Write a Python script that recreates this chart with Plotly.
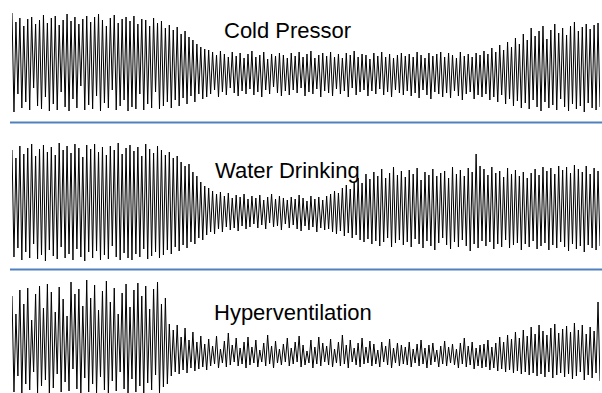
import numpy as np
import plotly.graph_objects as go

# Peak (hi) and trough (lo) amplitude of each oscillation cycle, arbitrary units
cold_hi = [51, 42, 46, 38, 45, 47, 40, 44, 49, 41,
           46, 48, 39, 44, 50, 43, 47, 40, 45, 48,
           42, 47, 50, 44, 38, 46, 49, 41, 45, 47,
           43, 48, 40, 45, 44, 38, 46, 41, 43, 36,
           39, 34, 37, 30, 33, 27, 24, 20, 17, 15,
           14, 12, 9, 13, 10, 7, 12, 8, 11, 6,
           10, 13, 7, 9, 12, 5, 10, 8, 11, 9,
           6, 11, 8, 12, 7, 10, 13, 6, 9, 11,
           8, 12, 7, 10, 6, 11, 9, 13, 7, 10,
           9, 5, 11, 8, 12, 7, 10, 6, 9, 11,
           8, 10, 7, 12, 9, 6, 11, 8, 10, 12,
           7, 11, 9, 6, 12, 8, 10, 7, 11, 9,
           13, 10, 16, 12, 19, 14, 22, 17, 26, 20,
           30, 24, 36, 28, 33, 38, 25, 34, 40, 31,
           36, 29, 38, 42, 33, 37, 40, 35, 39, 41]
cold_lo = [-48, -30, -44, -38, -46, -24, -42, -45, -33, -47,
           -40, -46, -28, -43, -47, -35, -44, -22, -46, -41,
           -45, -32, -47, -39, -44, -26, -46, -42, -36, -47,
           -43, -45, -30, -46, -40, -44, -28, -45, -42, -38,
           -44, -36, -42, -34, -40, -32, -38, -30, -35, -33,
           -30, -26, -33, -28, -31, -24, -29, -32, -27, -30,
           -25, -31, -28, -33, -26, -30, -23, -29, -32, -27,
           -31, -26, -29, -24, -32, -28, -30, -25, -33, -27,
           -29, -32, -25, -30, -27, -33, -24, -31, -28, -26,
           -32, -27, -30, -25, -31, -28, -33, -26, -29, -31,
           -27, -32, -29, -34, -26, -31, -35, -28, -30, -33,
           -29, -34, -27, -32, -36, -30, -28, -35, -31, -33,
           -30, -36, -33, -38, -31, -40, -35, -42, -37, -44,
           -39, -45, -36, -43, -47, -38, -44, -41, -46, -35,
           -43, -47, -40, -45, -42, -48, -39, -44, -46, -43]

water_hi = [52, 44, 56, 48, 54, 58, 46, 53, 57, 50,
            55, 47, 59, 52, 56, 49, 58, 54, 45, 57,
            53, 58, 50, 55, 47, 56, 52, 59, 48, 54,
            57, 51, 55, 46, 58, 53, 49, 56, 52, 47,
            50, 44, 46, 40, 36, 38, 30, 26, 20, 16,
            14, 11, 8, 10, 6, 9, 4, 7, 5, 8,
            3, 6, 4, 7, 2, 5, 8, 3, 6, 4,
            2, 5, 3, 7, 4, 1, 6, 3, 5, 2,
            6, 8, 11, 9, 14, 17, 13, 20, 24, 19,
            28, 23, 30, 26, 33, 24, 29, 35, 27, 31,
            25, 32, 28, 34, 22, 30, 27, 33, 26, 29,
            31, 24, 35, 28, 32, 26, 34, 30, 48, 36,
            33, 27, 35, 29, 31, 25, 34, 28, 32, 26,
            30, 24, 29, 33, 27, 35, 31, 34, 28, 36,
            32, 35, 29, 37, 33, 30, 36, 28, 34, 31]
water_lo = [-55, -46, -58, -50, -56, -42, -57, -53, -59, -48,
            -54, -57, -45, -56, -52, -58, -47, -55, -59, -50,
            -56, -49, -58, -53, -57, -44, -55, -58, -51, -56,
            -58, -52, -55, -47, -57, -54, -50, -56, -53, -48,
            -52, -45, -49, -43, -46, -40, -42, -36, -38, -33,
            -30, -32, -27, -30, -25, -28, -26, -29, -24, -27,
            -25, -22, -26, -23, -27, -21, -25, -24, -28, -22,
            -26, -23, -27, -29, -24, -28, -25, -30, -26, -28,
            -27, -30, -32, -29, -34, -31, -36, -33, -38, -40,
            -37, -42, -39, -44, -40, -36, -45, -41, -38, -43,
            -40, -45, -37, -42, -46, -39, -44, -48, -41, -36,
            -43, -47, -40, -45, -38, -44, -49, -42, -46, -39,
            -44, -40, -47, -42, -45, -38, -46, -43, -41, -48,
            -42, -45, -39, -47, -44, -41, -48, -43, -46, -40,
            -45, -49, -42, -47, -44, -50, -43, -46, -48, -44]

hyper_hi = [38, 20, 44, 30, 46, 14, 40, 48, 26, 50,
            42, 22, 47, 35, 18, 52, 40, 45, 28, 54,
            36, 49, 24, 43, 53, 32, 46, 20, 41, 50,
            27, 44, 51, 38, 48, 25, 45, 52, 30, 36,
            10, 4, 9, -3, 6, -6, 2, -8, -2, -10,
            -5, -12, -2, -15, -7, 1, -11, -4, -14, -8,
            -3, -13, -6, -16, -9, -1, -12, -7, -15, -10,
            -4, -14, -8, -2, -11, -17, -6, -13, -3, -9,
            -12, -5, -15, -8, -1, -11, -6, -14, -9, -4,
            -13, -7, -10, -16, -8, -12, -5, -14, -9, -11,
            -13, -8, -15, -10, -6, -14, -11, -9, -16, -12,
            -7, -13, -10, -15, -9, -4, -12, -8, -14, -11,
            -10, -6, -13, -9, -3, -8, -1, -5, 2, -4,
            4, -2, 7, 0, 9, 3, -1, 6, 10, 1,
            5, 8, 2, 11, 4, 9, 0, 7, 3, 32]
hyper_lo = [-58, -42, -60, -50, -56, -38, -59, -52, -46, -61,
            -54, -40, -58, -48, -57, -35, -55, -60, -44, -58,
            -50, -59, -43, -56, -61, -47, -57, -38, -55, -60,
            -45, -58, -52, -60, -49, -56, -41, -59, -53, -50,
            -42, -38, -40, -36, -39, -34, -37, -35, -33, -36,
            -32, -30, -34, -29, -33, -31, -28, -32, -30, -34,
            -31, -29, -33, -28, -32, -30, -34, -29, -31, -28,
            -32, -30, -28, -33, -31, -29, -34, -30, -32, -28,
            -31, -33, -29, -32, -30, -34, -28, -31, -33, -30,
            -29, -32, -30, -33, -28, -31, -34, -29, -32, -30,
            -31, -33, -29, -32, -30, -34, -31, -28, -33, -30,
            -32, -29, -31, -34, -30, -33, -31, -35, -32, -34,
            -33, -36, -34, -37, -35, -38, -36, -39, -37, -40,
            -38, -41, -39, -42, -40, -43, -38, -44, -41, -39,
            -43, -40, -45, -42, -38, -46, -41, -44, -39, -47]

titles = ["Cold Pressor", "Water Drinking", "Hyperventilation"]

W, H = 602, 393


def zigzag(hi, lo):
    """Interleave peaks and troughs into one trace sampled every half cycle."""
    y = np.empty(2 * len(hi))
    y[0::2] = hi
    y[1::2] = lo
    t = np.arange(len(y)) * 0.5
    return t, y


def py(p):
    # pixel row -> paper fraction
    return 1 - p / H


def px(p):
    return p / W


# panel layout: (peaks, troughs, top px, bottom px, half-range, title x px, title y px)
panels = [
    (cold_hi, cold_lo, 8, 120, 56, 287, 30),
    (water_hi, water_lo, 137, 267, 65, 287, 171),
    (hyper_hi, hyper_lo, 275, 393, 59, 293, 312),
]

fig = go.Figure()
layout = dict(
    width=W, height=H,
    margin=dict(l=0, r=0, t=0, b=0),
    paper_bgcolor="white", plot_bgcolor="white",
    showlegend=False,
)

annotations = []
for i, (hi, lo, top, bot, half, tx, ty) in enumerate(panels):
    t, y = zigzag(hi, lo)
    xa = "x" if i == 0 else f"x{i + 1}"
    ya = "y" if i == 0 else f"y{i + 1}"
    fig.add_trace(go.Scatter(
        x=t, y=y, mode="lines", xaxis=xa, yaxis=ya,
        line=dict(color="black", width=1), hoverinfo="skip",
    ))
    key = "" if i == 0 else str(i + 1)
    layout["xaxis" + key] = dict(
        domain=[px(12), px(600)], range=[t[0], t[-1]],
        visible=False, anchor=ya, fixedrange=True,
    )
    layout["yaxis" + key] = dict(
        domain=[py(bot), py(top)], range=[-half, half],
        visible=False, anchor=xa, fixedrange=True,
    )
    annotations.append(dict(
        text=titles[i], x=px(tx), y=py(ty), xref="paper", yref="paper",
        xanchor="center", yanchor="middle", showarrow=False,
        font=dict(family="Liberation Sans, Arial, sans-serif", size=22, color="black"),
    ))

layout["annotations"] = annotations
layout["shapes"] = [
    dict(type="line", xref="paper", yref="paper",
         x0=px(10), x1=1, y0=py(yy), y1=py(yy),
         line=dict(color="#4F81BD", width=2))
    for yy in (122.5, 269.5)
]

fig.update_layout(**layout)
fig.write_html("out.html")
